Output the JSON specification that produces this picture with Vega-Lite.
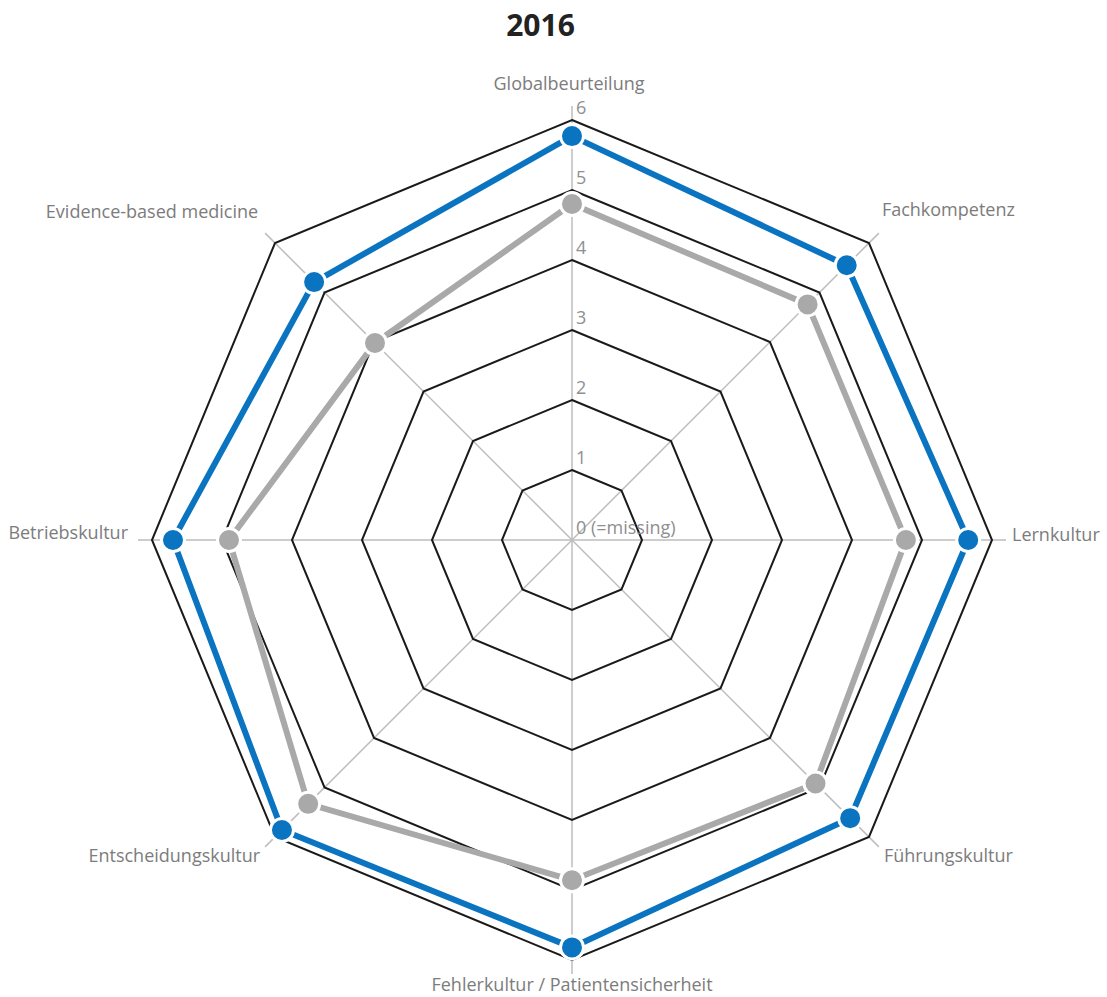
{
  "$schema": "https://vega.github.io/schema/vega-lite/v6.json",
  "width": 1107,
  "height": 947,
  "autosize": "none",
  "padding": {"top": 50, "left": 0, "right": 0, "bottom": 0},
  "background": "white",
  "title": {"text": "2016", "fontSize": 30, "fontWeight": "bold", "font": "Open Sans", "color": "#222222", "anchor": "middle", "baseline": "alphabetic", "offset": -16, "dx": -13},
  "config": {"view": {"stroke": null}},
  "datasets": {
    "scores": [
      {"cat": "Globalbeurteilung", "idx": 0, "series": "Serie 1", "value": 5.77},
      {"cat": "Fachkompetenz", "idx": 1, "series": "Serie 1", "value": 5.55},
      {"cat": "Lernkultur", "idx": 2, "series": "Serie 1", "value": 5.66},
      {"cat": "Führungskultur", "idx": 3, "series": "Serie 1", "value": 5.62},
      {"cat": "Fehlerkultur / Patientensicherheit", "idx": 4, "series": "Serie 1", "value": 5.82},
      {"cat": "Entscheidungskultur", "idx": 5, "series": "Serie 1", "value": 5.86},
      {"cat": "Betriebskultur", "idx": 6, "series": "Serie 1", "value": 5.70},
      {"cat": "Evidence-based medicine", "idx": 7, "series": "Serie 1", "value": 5.21},
      {"cat": "Globalbeurteilung", "idx": 0, "series": "Serie 2", "value": 4.80},
      {"cat": "Fachkompetenz", "idx": 1, "series": "Serie 2", "value": 4.76},
      {"cat": "Lernkultur", "idx": 2, "series": "Serie 2", "value": 4.77},
      {"cat": "Führungskultur", "idx": 3, "series": "Serie 2", "value": 4.92},
      {"cat": "Fehlerkultur / Patientensicherheit", "idx": 4, "series": "Serie 2", "value": 4.86},
      {"cat": "Entscheidungskultur", "idx": 5, "series": "Serie 2", "value": 5.33},
      {"cat": "Betriebskultur", "idx": 6, "series": "Serie 2", "value": 4.90},
      {"cat": "Evidence-based medicine", "idx": 7, "series": "Serie 2", "value": 3.98}
    ],
    "grid": [
      {"level": 1, "idx": [0, 1, 2, 3, 4, 5, 6, 7]},
      {"level": 2, "idx": [0, 1, 2, 3, 4, 5, 6, 7]},
      {"level": 3, "idx": [0, 1, 2, 3, 4, 5, 6, 7]},
      {"level": 4, "idx": [0, 1, 2, 3, 4, 5, 6, 7]},
      {"level": 5, "idx": [0, 1, 2, 3, 4, 5, 6, 7]},
      {"level": 6, "idx": [0, 1, 2, 3, 4, 5, 6, 7]}
    ],
    "categories": [
      {"cat": "Globalbeurteilung", "idx": 0},
      {"cat": "Fachkompetenz", "idx": 1},
      {"cat": "Lernkultur", "idx": 2},
      {"cat": "Führungskultur", "idx": 3},
      {"cat": "Fehlerkultur / Patientensicherheit", "idx": 4},
      {"cat": "Entscheidungskultur", "idx": 5},
      {"cat": "Betriebskultur", "idx": 6},
      {"cat": "Evidence-based medicine", "idx": 7}
    ],
    "ticks": [
      {"label": "0 (=missing)", "level": 0},
      {"label": "1", "level": 1},
      {"label": "2", "level": 2},
      {"label": "3", "level": 3},
      {"label": "4", "level": 4},
      {"label": "5", "level": 5},
      {"label": "6", "level": 6}
    ]
  },
  "layer": [
    {
      "data": {"name": "categories"},
      "transform": [
        {"calculate": "6.2*sin(datum.idx*PI/4)", "as": "sx"},
        {"calculate": "6.2*cos(datum.idx*PI/4)", "as": "sy"}
      ],
      "mark": {"type": "rule", "color": "#bdbdbd", "strokeWidth": 1.5},
      "encoding": {
        "x": {"field": "sx", "type": "quantitative", "scale": {"domain": [-8.1714, 7.6429], "nice": false, "zero": false}, "axis": null},
        "y": {"field": "sy", "type": "quantitative", "scale": {"domain": [-6.5286, 7.0], "nice": false, "zero": false}, "axis": null},
        "x2": {"datum": 0},
        "y2": {"datum": 0}
      }
    },
    {
      "data": {"name": "grid"},
      "transform": [
        {"flatten": ["idx"]},
        {"calculate": "datum.level*sin(datum.idx*PI/4)", "as": "gx"},
        {"calculate": "datum.level*cos(datum.idx*PI/4)", "as": "gy"}
      ],
      "mark": {"type": "line", "interpolate": "linear-closed", "color": "#1a1a1a", "strokeWidth": 2},
      "encoding": {
        "x": {"field": "gx", "type": "quantitative", "scale": {"domain": [-8.1714, 7.6429], "nice": false, "zero": false}, "axis": null},
        "y": {"field": "gy", "type": "quantitative", "scale": {"domain": [-6.5286, 7.0], "nice": false, "zero": false}, "axis": null},
        "detail": {"field": "level", "type": "nominal"},
        "order": {"field": "idx", "type": "quantitative"}
      }
    },
    {
      "data": {"name": "scores"},
      "transform": [
        {"calculate": "datum.value*sin(datum.idx*PI/4)", "as": "px"},
        {"calculate": "datum.value*cos(datum.idx*PI/4)", "as": "py"}
      ],
      "layer": [
        {
          "mark": {"type": "line", "interpolate": "linear-closed", "strokeWidth": 6},
          "encoding": {
            "x": {"field": "px", "type": "quantitative", "scale": {"domain": [-8.1714, 7.6429], "nice": false, "zero": false}, "axis": null},
            "y": {"field": "py", "type": "quantitative", "scale": {"domain": [-6.5286, 7.0], "nice": false, "zero": false}, "axis": null},
            "color": {"field": "series", "type": "nominal", "scale": {"domain": ["Serie 1", "Serie 2"], "range": ["#0a74c1", "#a9a9a9"]}, "legend": null},
            "order": {"field": "idx", "type": "quantitative"}
          }
        },
        {
          "mark": {"type": "point", "filled": true, "shape": "circle", "size": 529, "stroke": "white", "strokeWidth": 3, "opacity": 1},
          "encoding": {
            "x": {"field": "px", "type": "quantitative", "scale": {"domain": [-8.1714, 7.6429], "nice": false, "zero": false}, "axis": null},
            "y": {"field": "py", "type": "quantitative", "scale": {"domain": [-6.5286, 7.0], "nice": false, "zero": false}, "axis": null},
            "color": {"field": "series", "type": "nominal", "scale": {"domain": ["Serie 1", "Serie 2"], "range": ["#0a74c1", "#a9a9a9"]}, "legend": null}
          }
        }
      ]
    },
    {
      "data": {"name": "ticks"},
      "mark": {"type": "text", "align": "left", "baseline": "middle", "dx": 4, "dy": -11, "font": "Open Sans", "fontSize": 18, "color": "#8f8f8f"},
      "encoding": {
        "x": {"datum": 0, "type": "quantitative", "scale": {"domain": [-8.1714, 7.6429], "nice": false, "zero": false}, "axis": null},
        "y": {"field": "level", "type": "quantitative", "scale": {"domain": [-6.5286, 7.0], "nice": false, "zero": false}, "axis": null},
        "text": {"field": "label"}
      }
    },
    {
      "data": {"name": "categories"},
      "transform": [
        {"calculate": "6.2*sin(datum.idx*PI/4)", "as": "lx"},
        {"calculate": "6.2*cos(datum.idx*PI/4)", "as": "ly"}
      ],
      "encoding": {
        "x": {"field": "lx", "type": "quantitative", "scale": {"domain": [-8.1714, 7.6429], "nice": false, "zero": false}, "axis": null},
        "y": {"field": "ly", "type": "quantitative", "scale": {"domain": [-6.5286, 7.0], "nice": false, "zero": false}, "axis": null},
        "text": {"field": "cat"}
      },
      "layer": [
        {"transform": [{"filter": "datum.idx == 0"}], "mark": {"type": "text", "align": "center", "baseline": "middle", "dx": -3, "dy": -21, "font": "Open Sans", "fontSize": 18, "color": "#7c7c7c"}},
        {"transform": [{"filter": "datum.idx == 1"}], "mark": {"type": "text", "align": "left", "baseline": "middle", "dx": 3, "dy": -22, "font": "Open Sans", "fontSize": 18, "color": "#7c7c7c"}},
        {"transform": [{"filter": "datum.idx == 2"}], "mark": {"type": "text", "align": "left", "baseline": "middle", "dx": 6, "dy": -4, "font": "Open Sans", "fontSize": 18, "color": "#7c7c7c"}},
        {"transform": [{"filter": "datum.idx == 3"}], "mark": {"type": "text", "align": "left", "baseline": "middle", "dx": 5, "dy": 10, "font": "Open Sans", "fontSize": 18, "color": "#7c7c7c"}},
        {"transform": [{"filter": "datum.idx == 4"}], "mark": {"type": "text", "align": "center", "baseline": "middle", "dx": 0, "dy": 12, "font": "Open Sans", "fontSize": 18, "color": "#7c7c7c"}},
        {"transform": [{"filter": "datum.idx == 5"}], "mark": {"type": "text", "align": "right", "baseline": "middle", "dx": -5, "dy": 10, "font": "Open Sans", "fontSize": 18, "color": "#7c7c7c"}},
        {"transform": [{"filter": "datum.idx == 6"}], "mark": {"type": "text", "align": "right", "baseline": "middle", "dx": -10, "dy": -6, "font": "Open Sans", "fontSize": 18, "color": "#7c7c7c"}},
        {"transform": [{"filter": "datum.idx == 7"}], "mark": {"type": "text", "align": "right", "baseline": "middle", "dx": -7, "dy": -20, "font": "Open Sans", "fontSize": 18, "color": "#7c7c7c"}}
      ]
    }
  ]
}
